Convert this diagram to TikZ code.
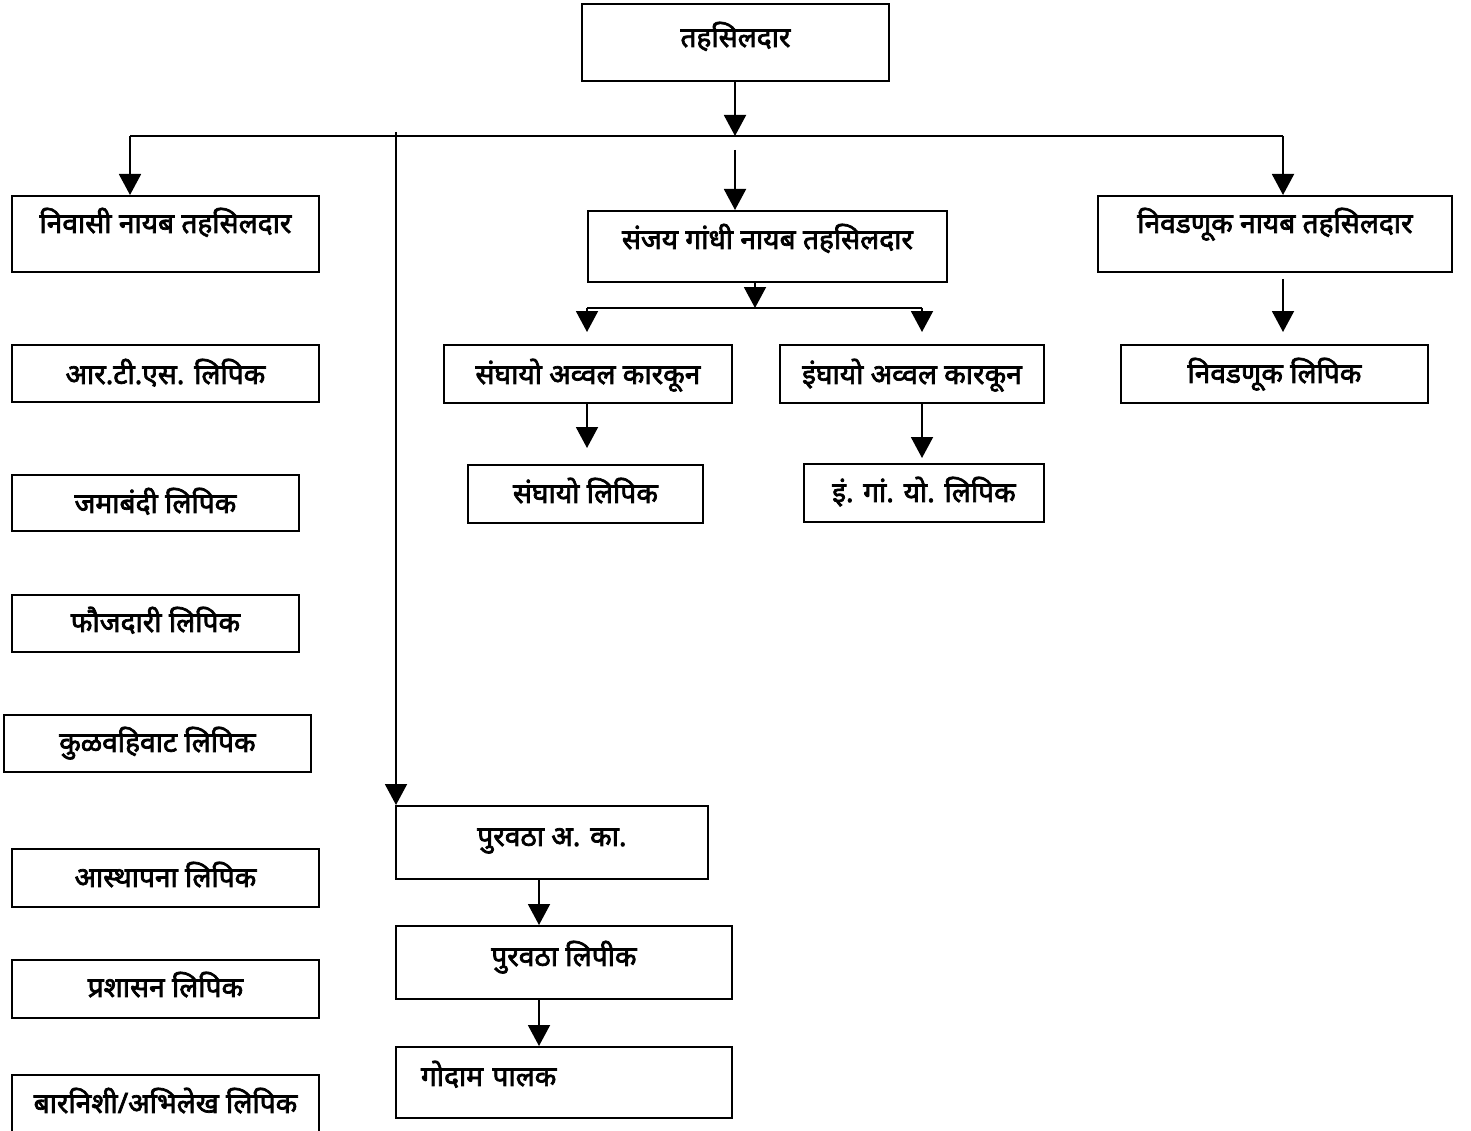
\documentclass[tikz,border=0pt]{standalone}
\usepackage{fontspec}
\newfontfamily\devfont[Script=Devanagari,AutoFakeBold=2.5]{Noto Sans}
\usetikzlibrary{arrows.meta}

\begin{document}
\begin{tikzpicture}[x=0.02cm,y=-0.02cm,line width=1.1pt,
	>={Triangle[width=0.44cm,length=0.42cm]},
	post/.style={draw,inner sep=0pt,anchor=north west,font=\devfont\bfseries\fontsize{16}{19}\selectfont}]
	\useasboundingbox (0,0) rectangle (1471,1131);

	\node[post,minimum width=6.14cm,text height=0.86cm,text depth=0.68cm] (tah) at (581,3) {तहसिलदार};

	% left column
	\node[post,minimum width=6.14cm,text height=0.74cm,text depth=0.78cm] (niv) at (11,195) {निवासी नायब तहसिलदार};
	\node[post,minimum width=6.14cm,text height=0.78cm,text depth=0.36cm] (rts) at (11,344) {आर.टी.एस. लिपिक};
	\node[post,minimum width=5.74cm,text height=0.76cm,text depth=0.36cm] (jam) at (11,474) {जमाबंदी लिपिक};
	\node[post,minimum width=5.74cm,text height=0.74cm,text depth=0.40cm] (fau) at (11,594) {फौजदारी लिपिक};
	\node[post,minimum width=6.14cm,text height=0.74cm,text depth=0.40cm] (kul) at (3,714) {कुळवहिवाट लिपिक};
	\node[post,minimum width=6.14cm,text height=0.76cm,text depth=0.40cm] (ast) at (11,848) {आस्थापना लिपिक};
	\node[post,minimum width=6.14cm,text height=0.74cm,text depth=0.42cm] (pra) at (11,959) {प्रशासन लिपिक};
	\node[post,minimum width=6.14cm,text height=0.76cm,text depth=0.38cm] (bar) at (11,1074) {बारनिशी/अभिलेख लिपिक};

	% middle
	\node[post,minimum width=7.18cm,text height=0.76cm,text depth=0.66cm] (sanj) at (587,210) {संजय गांधी नायब तहसिलदार};
	\node[post,minimum width=5.76cm,text height=0.78cm,text depth=0.38cm] (sga) at (443,344) {संघायो अव्वल कारकून};
	\node[post,minimum width=5.28cm,text height=0.78cm,text depth=0.38cm] (iga) at (779,344) {इंघायो अव्वल कारकून};
	\node[post,minimum width=4.70cm,text height=0.76cm,text depth=0.40cm] (sgl) at (467,464) {संघायो लिपिक};
	\node[post,minimum width=4.80cm,text height=0.76cm,text depth=0.40cm] (igl) at (803,463) {इं. गां. यो. लिपिक};

	% right
	\node[post,minimum width=7.08cm,text height=0.74cm,text depth=0.78cm] (nivad) at (1097,195) {निवडणूक नायब तहसिलदार};
	\node[post,minimum width=6.14cm,text height=0.76cm,text depth=0.40cm] (nivl) at (1120,344) {निवडणूक लिपिक};

	% supply
	\node[post,minimum width=6.24cm,text height=0.80cm,text depth=0.66cm] (purak) at (395,805) {पुरवठा अ. का.};
	\node[post,minimum width=6.72cm,text height=0.80cm,text depth=0.66cm] (purl) at (395,925) {पुरवठा लिपीक};
	\node[post,text width=6.72cm,align=left,text height=0.78cm,text depth=0.64cm] (god) at (395,1046) {\hspace*{0.5cm}गोदाम पालक};

	\coordinate (bus) at (735,136);
	\coordinate (jl) at (130,136);
	\coordinate (jr) at (1283,136);
	\coordinate (vtop) at (396,132);
	\coordinate (sjt) at (735,150);
	\coordinate (sbus) at (755,308);
	\coordinate (sl) at (587,308);
	\coordinate (sr) at (922,308);
	\coordinate (pv) at (539,878);

	\draw[->] (tah.south -| bus) -- (bus);
	\draw (jl) -- (jr);
	\draw[->] (jl) -- (jl |- niv.north);
	\draw[->] (jr) -- (jr |- nivad.north);
	\draw[->] (vtop) -- (vtop |- purak.north);
	\draw[->] (sjt) -- (sjt |- sanj.north);
	\draw[->] (sanj.south -| sbus) -- (sbus);
	\draw (sl) -- (sr);
	\draw[->,shorten >=0.24cm] (sl) -- (sl |- sga.north);
	\draw[->,shorten >=0.24cm] (sr) -- (sr |- iga.north);
	\draw[->,shorten >=0.32cm] (sga.south -| sl) -- (sl |- sgl.north);
	\draw[->,shorten >=0.1cm] (iga.south -| sr) -- (sr |- igl.north);
	\draw[->,shorten <=0.12cm,shorten >=0.24cm] (nivad.south -| jr) -- (jr |- nivl.north);
	\draw[->] (purak.south -| pv) -- (pv |- purl.north);
	\draw[->] (purl.south -| pv) -- (pv |- god.north);
\end{tikzpicture}
\end{document}
